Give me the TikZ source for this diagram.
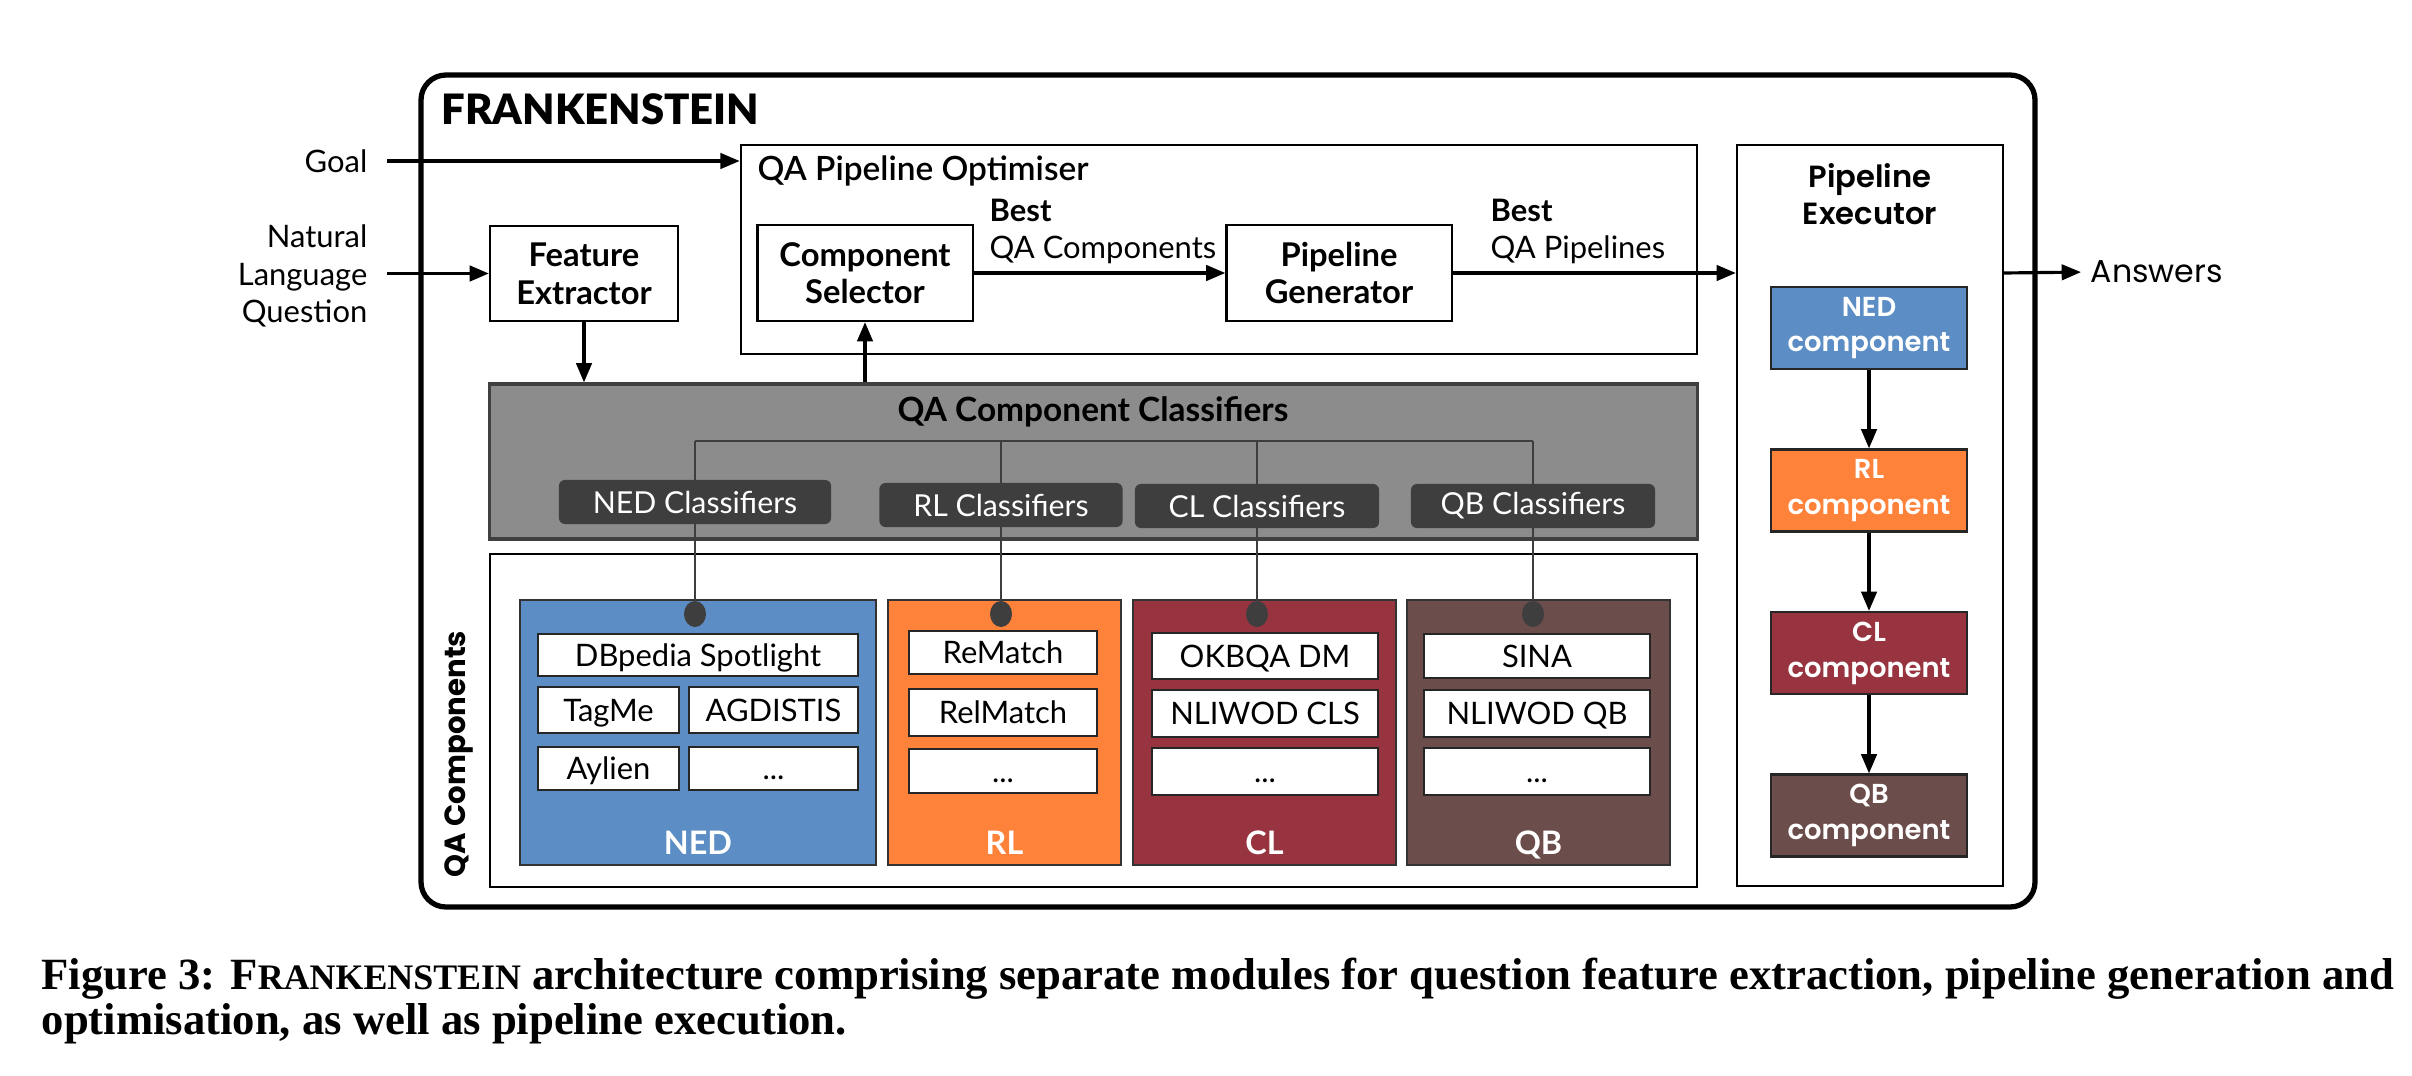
\documentclass[tikz,border=0pt]{standalone}
\usepackage{fontspec}
\setmainfont{Lato}
\newfontfamily\geofont{Poppins}
\newfontfamily\geosemi{Poppins SemiBold}
\newfontfamily\heavyfont{Lato Black}
\newfontfamily\semifont{Lato Semibold}
\newfontfamily\capfont{Liberation Serif}
\usetikzlibrary{arrows.meta,shapes.geometric}

\definecolor{nedblue}{RGB}{92,142,197}
\definecolor{rlorange}{RGB}{255,130,59}
\definecolor{clred}{RGB}{151,52,64}
\definecolor{qbbrown}{RGB}{107,78,75}
\definecolor{clsgray}{RGB}{140,140,140}
\definecolor{clsdark}{RGB}{62,62,62}

\tikzset{
  box/.style={draw, line width=0.6pt, fill=white, align=center, inner sep=0pt},
  stage/.style={box, font=\fontsize{9.3}{10.7}\selectfont\bfseries},
  txt/.style={inner sep=0pt, font=\fontsize{8.8}{10.7}\selectfont},
  item/.style={draw=black!85, line width=0.7pt, fill=white, inner sep=0pt,
    font=\fontsize{8.8}{10}\selectfont, text height=6.5pt, text depth=0.2pt},
  catbox/.style={draw=black!80, line width=0.7pt, inner sep=0pt},
  catlabel/.style={text=white, inner sep=0pt, font=\fontsize{9.2}{10}\selectfont\bfseries},
  clslabel/.style={fill=clsdark, rounded corners=0.06cm, text=white, inner sep=0pt,
    minimum height=0.44cm, font=\fontsize{8.6}{10}\selectfont},
  execbox/.style={draw=black!85, line width=0.6pt, text=white, align=center, inner sep=0pt,
    minimum width=1.96cm, minimum height=0.82cm, font=\geosemi\fontsize{7.8}{10.2}\selectfont},
  link/.style={-{Triangle[length=5.5pt,width=4.4pt]}, line width=0.9pt},
  tree/.style={draw=clsdark, line width=0.75pt},
  dot/.style={ellipse, fill=clsdark, minimum width=0.22cm, minimum height=0.26cm, inner sep=0pt}
}

\begin{document}
\begin{tikzpicture}[x=0.01cm, y=-0.01cm]

\useasboundingbox (0,0) rectangle (2412,1076);

% Draw the frame
\draw[line width=1.5pt, rounded corners=0.25cm] (421,75) rectangle (2035,907);
\node[anchor=west, inner sep=0pt, font=\heavyfont\fontsize{11.9}{12}\selectfont] (frank) at (441,109) {FRANKENSTEIN};

% Inputs
\node[txt, anchor=east] (goal) at (368,161) {Goal};
\node[txt, anchor=east, align=right] (nlq) at (368,276) {Natural\\Language\\Question};

% QA Pipeline Optimiser
\node[box, minimum width=9.56cm, minimum height=2.09cm] (qpo) at (1219,249.5) {};
\node[txt, anchor=base west, font=\semifont\fontsize{9.5}{10}\selectfont] (qpotitle) at (757,181) {QA Pipeline Optimiser};
\node[stage, minimum width=2.15cm, minimum height=0.96cm] (cs) at (865,273) {Component\\Selector};
\node[stage, minimum width=2.25cm, minimum height=0.96cm] (pg) at (1339,273) {Pipeline\\Generator};
\node[txt, anchor=south west, align=left] (bestc) at (989,265) {\textbf{Best}\\QA Components};
\node[txt, anchor=south west, align=left] (bestp) at (1490,265) {\textbf{Best}\\QA Pipelines};

% Feature Extractor
\node[stage, minimum width=1.88cm, minimum height=0.95cm] (fe) at (584,273.5) {Feature\\Extractor};

% Pipeline Executor
\node[box, minimum width=2.66cm, minimum height=7.41cm] (pe) at (1870,515.5) {};
\node[anchor=north, inner sep=0pt, align=center, font=\geosemi\fontsize{8.7}{10.6}\selectfont] (petitle) at (1870,163) {Pipeline\\Executor};
\node[execbox, fill=nedblue] (nedexec) at (1869,328) {NED\\component};
\node[execbox, fill=rlorange] (rlexec) at (1869,490.5) {RL\\component};
\node[execbox, fill=clred] (clexec) at (1869,653) {CL\\component};
\node[execbox, fill=qbbrown] (qbexec) at (1869,815.5) {QB\\component};
\node[anchor=west, inner sep=0pt, font=\geofont\fontsize{9}{10}\selectfont] (answers) at (2090,272) {Answers};

% QA Component Classifiers
\node[draw=black!75, line width=0.9pt, fill=clsgray, minimum width=12.07cm, minimum height=1.55cm, inner sep=0pt] (cls) at (1093.5,461.5) {};
\node[anchor=base, inner sep=0pt, font=\bfseries\fontsize{9.5}{10}\selectfont] (clstitle) at (1093,421) {QA Component Classifiers};

% QA Components
\node[box, minimum width=12.07cm, minimum height=3.33cm] (qac) at (1093.5,720.5) {};
\node[rotate=90, inner sep=0pt, font=\geofont\bfseries\fontsize{8.3}{10}\selectfont] (qactitle) at (459,754) {QA Components};

\node[catbox, fill=nedblue, minimum width=3.56cm, minimum height=2.65cm] (nedcat) at (698,732.5) {};
\node[catbox, fill=rlorange, minimum width=2.33cm, minimum height=2.65cm] (rlcat) at (1004.5,732.5) {};
\node[catbox, fill=clred, minimum width=2.63cm, minimum height=2.65cm] (clcat) at (1264.5,732.5) {};
\node[catbox, fill=qbbrown, minimum width=2.63cm, minimum height=2.65cm] (qbcat) at (1538.5,732.5) {};
\node[catlabel, anchor=base] (nedname) at (698,854) {NED};
\node[catlabel, anchor=base] (rlname) at (1004.5,854) {RL};
\node[catlabel, anchor=base] (clname) at (1264.5,854) {CL};
\node[catlabel, anchor=base] (qbname) at (1538.5,854) {QB};

% NED tools
\node[item, minimum width=3.2cm, minimum height=0.42cm] (dbpedia) at (698,655) {DBpedia Spotlight};
\node[item, minimum width=1.41cm, minimum height=0.46cm] (tagme) at (608.5,710) {TagMe};
\node[item, minimum width=1.69cm, minimum height=0.46cm] (agdistis) at (773.5,710) {AGDISTIS};
\node[item, minimum width=1.41cm, minimum height=0.43cm] (aylien) at (608.5,768.5) {Aylien};
\node[item, minimum width=1.69cm, minimum height=0.43cm] (nedmore) at (773.5,768.5) {...};

% RL tools
\node[item, minimum width=1.88cm, minimum height=0.43cm] (rematch) at (1003,652.5) {ReMatch};
\node[item, minimum width=1.88cm, minimum height=0.47cm] (relmatch) at (1003,712.5) {RelMatch};
\node[item, minimum width=1.88cm, minimum height=0.44cm] (rlmore) at (1003,771) {...};

% CL tools
\node[item, minimum width=2.26cm, minimum height=0.46cm] (okbqa) at (1265,656) {OKBQA DM};
\node[item, minimum width=2.26cm, minimum height=0.47cm] (nliwodcls) at (1265,713.5) {NLIWOD CLS};
\node[item, minimum width=2.26cm, minimum height=0.47cm] (clmore) at (1265,771.5) {...};

% QB tools
\node[item, minimum width=2.26cm, minimum height=0.44cm] (sina) at (1537,656) {SINA};
\node[item, minimum width=2.26cm, minimum height=0.47cm] (nliwodqb) at (1537,713.5) {NLIWOD QB};
\node[item, minimum width=2.26cm, minimum height=0.47cm] (qbmore) at (1537,771.5) {...};

% Classifier tree
\node[dot] (dotned) at (695,614) {};
\node[dot] (dotrl) at (1001,614) {};
\node[dot] (dotcl) at (1257,614) {};
\node[dot] (dotqb) at (1533,614) {};
\draw[tree] (dotned |- 0,441) -- (dotqb |- 0,441);
\foreach \c in {ned,rl,cl,qb}
  \draw[tree] (dot\c |- 0,441) -- (dot\c.center);
\node[clslabel, minimum width=2.72cm] (nedcls) at (695,502) {NED Classifiers};
\node[clslabel, minimum width=2.43cm] (rlcls) at (1001,505) {RL Classifiers};
\node[clslabel, minimum width=2.44cm] (clcls) at (1257,506) {CL Classifiers};
\node[clslabel, minimum width=2.44cm] (qbcls) at (1533,506) {QB Classifiers};

% Arrows
\draw[link, shorten <=0.19cm] (goal.east) -- (goal.east -| qpo.west);
\draw[link, shorten <=0.19cm] (nlq.east |- fe.west) -- (fe.west);
\draw[link] (fe.south) -- (fe.south |- cls.north);
\draw[link] (cs.south |- cls.north) -- (cs.south);
\draw[link] (cs.east) -- (pg.west);
\draw[link] (pg.east) -- (pg.east -| pe.west);
\draw[link, shorten >=0.09cm] (pg.east -| pe.east) -- (answers.west);
\draw[link] (nedexec.south) -- (rlexec.north);
\draw[link] (rlexec.south) -- (clexec.north);
\draw[link] (clexec.south) -- (qbexec.north);

% Caption
\node[anchor=base west, inner sep=0pt, font=\capfont\bfseries\fontsize{12.7}{14}\selectfont] (cap1) at (41,989)
  {Figure 3: F{\fontsize{10.2}{14}\selectfont RANKENSTEIN} architecture comprising separate modules for question feature extraction, pipeline generation and};
\node[anchor=base west, inner sep=0pt, font=\capfont\bfseries\fontsize{12.7}{14}\selectfont] (cap2) at (41,1034)
  {optimisation, as well as pipeline execution.};

\end{tikzpicture}
\end{document}
